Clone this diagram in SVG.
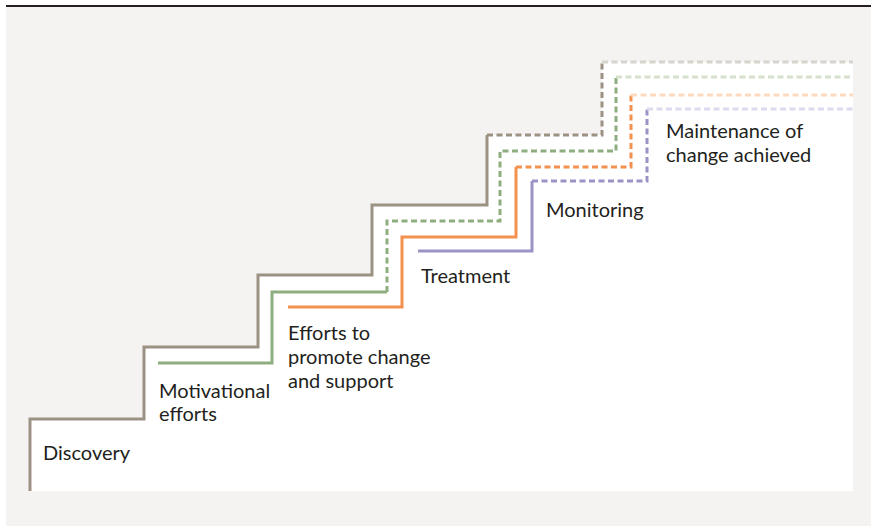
<svg xmlns="http://www.w3.org/2000/svg" width="871" height="526" viewBox="0 0 871 526">
<style>
.bg{fill:#f4f3f1}
.lbl{font-family:Lato,"Noto Sans",sans-serif;font-size:20px;fill:#231f20}
.s{fill:none;stroke-width:3;stroke-linejoin:miter;stroke-linecap:butt}
.d{stroke-dasharray:6 3.5}
.gy{stroke:#9c9284}.gyl{stroke:#d8d3cc}
.gr{stroke:#8fae7f}.grl{stroke:#d5e1cc}
.or{stroke:#f5914f}.orl{stroke:#fdd9bf}
.pu{stroke:#9b93c6}.pul{stroke:#ddd9ee}
</style>
<rect class="bg" x="6" y="7" width="865" height="519"/>
<line x1="6" y1="6" x2="871" y2="6" stroke="#231f20" stroke-width="2"/>
<polygon fill="#ffffff" points="30,491 30,419 144,419 144,347 258,347 258,275 372,275 372,205 487,205 487,135 602,135 602,62 853,62 853,491"/>
<g id="connectors">
<path class="s gy" d="M30,491 V419 H144 V347 H258 V275 H372 V205 H487 V135"/>
<path class="s gy d" d="M487,135 H602 V62"/>
<path class="s gyl d" d="M602,62 H853"/>
<path class="s gr" d="M158,363 H272 V292 H387"/>
<path class="s gr d" d="M387,292 V221 H500 V151 H616 V77"/>
<path class="s grl d" d="M616,77 H853"/>
<path class="s or" d="M288,307 H402 V237 H516 V167"/>
<path class="s or d" d="M516,167 H631 V95"/>
<path class="s orl d" d="M631,95 H853"/>
<path class="s pu" d="M418,251 H532 V181"/>
<path class="s pu d" d="M532,181 H647 V109"/>
<path class="s pul d" d="M647,109 H853"/>
</g>
<g id="discovery"><text class="lbl" x="43" y="460">Discovery</text></g>
<g id="motivational"><text class="lbl" x="159" y="398">Motivational</text><text class="lbl" x="159" y="421">efforts</text></g>
<g id="efforts"><text class="lbl" x="288" y="340">Efforts to</text><text class="lbl" x="288" y="364">promote change</text><text class="lbl" x="288" y="388">and support</text></g>
<g id="treatment"><text class="lbl" x="421" y="283">Treatment</text></g>
<g id="monitoring"><text class="lbl" x="546" y="217">Monitoring</text></g>
<g id="maintenance"><text class="lbl" x="666" y="138">Maintenance of</text><text class="lbl" x="666" y="162">change achieved</text></g>
</svg>
